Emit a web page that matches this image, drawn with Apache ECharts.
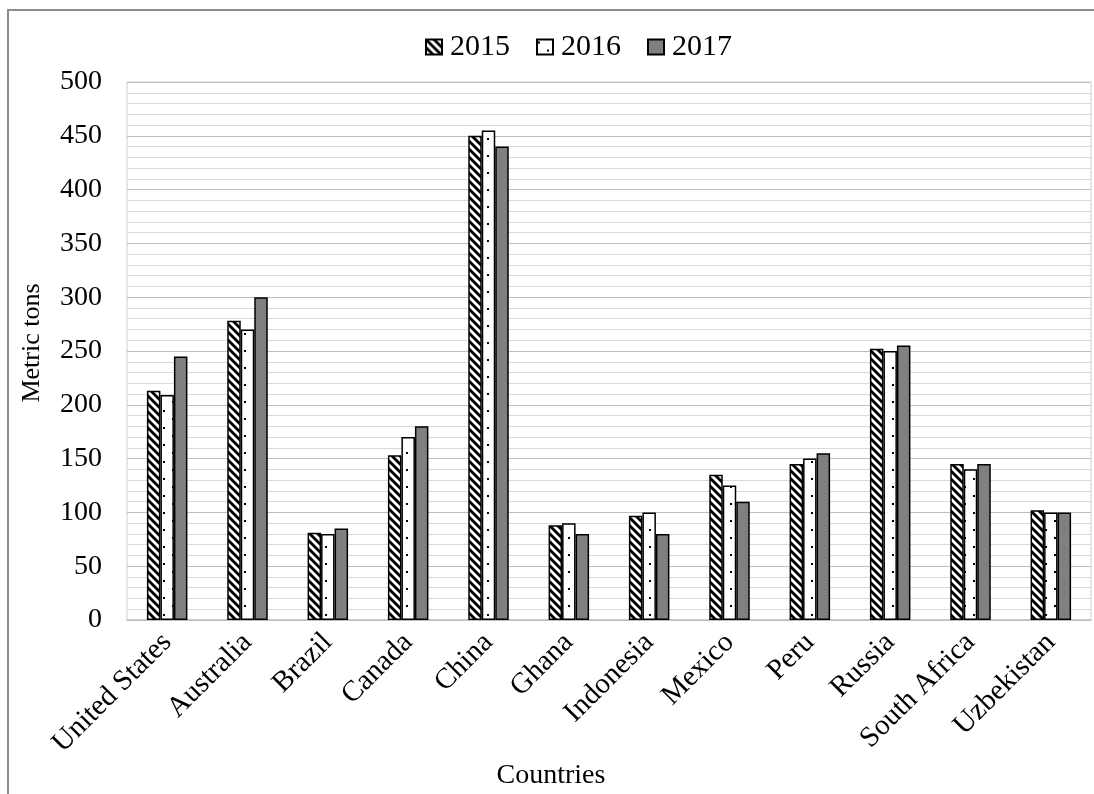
<!DOCTYPE html>
<html>
<head>
<meta charset="utf-8">
<script src="https://cdn.jsdelivr.net/npm/echarts@6/dist/echarts.min.js"></script>
<style>
  html, body { margin: 0; padding: 0; background: #fff; }
  #main { width: 1094px; height: 794px; }
</style>
</head>
<body>
<div id="main"></div>
<script>
  // data
  var countries = ['United States', 'Australia', 'Brazil', 'Canada', 'China', 'Ghana',
    'Indonesia', 'Mexico', 'Peru', 'Russia', 'South Africa', 'Uzbekistan'];
  var years = ['2015', '2016', '2017'];
  var tons2015 = [213, 278, 81, 153, 450, 88, 97, 135, 145, 252, 145, 102];
  var tons2016 = [209, 270, 80, 170, 455, 90, 100, 125, 150, 250, 140, 100];
  var tons2017 = [245, 300, 85, 180, 440, 80, 80, 110, 155, 255, 145, 100];

  var font = '"Liberation Serif", "Times New Roman", serif';

  // diagonal black/white stripes
  function stripeTile() {
    var c = document.createElement('canvas');
    c.width = 8; c.height = 8;
    var g = c.getContext('2d');
    g.fillStyle = '#fff';
    g.fillRect(0, 0, 8, 8);
    g.strokeStyle = '#000';
    g.lineWidth = 2.8;
    [-8, 0, 8].forEach(function (o) {
      g.beginPath();
      g.moveTo(o - 1, -1);
      g.lineTo(o + 9, 9);
      g.stroke();
    });
    return c;
  }

  // white with sparse dots
  function dotTile() {
    var c = document.createElement('canvas');
    c.width = 18; c.height = 17;
    var g = c.getContext('2d');
    g.fillStyle = '#fff';
    g.fillRect(0, 0, 18, 17);
    g.fillStyle = '#000';
    g.fillRect(1, 2, 2, 2);
    g.fillRect(10, 10, 2, 2);
    return c;
  }

  var fills = [
    { image: stripeTile(), repeat: 'repeat' },
    { image: dotTile(), repeat: 'repeat' },
    '#808080'
  ];
  var values = [tons2015, tons2016, tons2017];

  var chart = echarts.init(document.getElementById('main'));

  var option = {
    animation: false,
    backgroundColor: '#fff',
    graphic: [
      {
        type: 'rect',
        shape: { x: 8, y: 10, width: 1100, height: 800 },
        style: { fill: 'none', stroke: '#8c8c8c', lineWidth: 2 },
        silent: true
      },
      {
        type: 'text',
        x: 551, y: 762,
        style: { text: 'Countries', font: '28px ' + font, fill: '#000', textAlign: 'center' }
      }
    ],
    legend: {
      data: years,
      icon: 'rect',
      left: 420,
      top: 27,
      itemWidth: 16,
      itemHeight: 15,
      itemGap: 26,
      textStyle: { fontFamily: font, fontSize: 30, color: '#000', padding: [0, 0, 0, 3] }
    },
    grid: {
      left: 127,
      right: 3,
      top: 82,
      bottom: 174,
      show: true,
      borderColor: '#d0d0d0',
      borderWidth: 1
    },
    xAxis: {
      type: 'category',
      data: countries,
      axisLine: { lineStyle: { color: '#bfbfbf', width: 1.5 } },
      axisTick: { show: false },
      axisLabel: {
        rotate: 45,
        interval: 0,
        margin: 18,
        fontFamily: font,
        fontSize: 29,
        color: '#000'
      }
    },
    yAxis: {
      type: 'value',
      min: 0,
      max: 500,
      interval: 50,
      name: 'Metric tons',
      nameLocation: 'middle',
      nameGap: 82,
      nameTextStyle: { fontFamily: font, fontSize: 26, color: '#000', padding: [0, 0, 0, 16] },
      axisLine: { show: false },
      axisTick: { show: false },
      axisLabel: { fontFamily: font, fontSize: 28, color: '#000', margin: 25 },
      splitLine: { lineStyle: { color: '#bfbfbf', width: 1 } },
      minorTick: { show: false, splitNumber: 5 },
      minorSplitLine: { show: true, lineStyle: { color: '#d9d9d9', width: 1 } }
    },
    series: years.map(function (y, i) {
      return {
        name: y,
        type: 'bar',
        data: values[i],
        barWidth: 13.5,
        barGap: '0%',
        itemStyle: { color: fills[i], borderColor: '#000', borderWidth: 1.5 }
      };
    })
  };

  chart.setOption(option);
</script>
</body>
</html>
